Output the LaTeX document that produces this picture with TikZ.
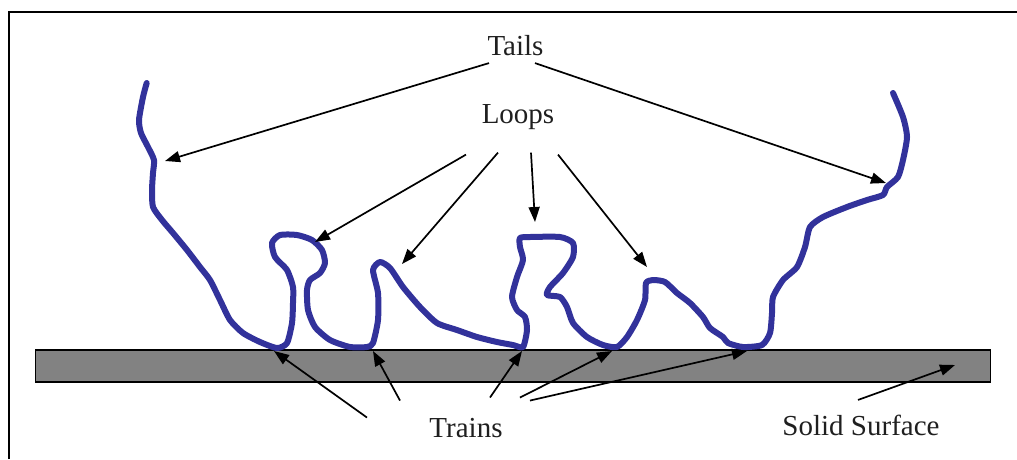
\documentclass[tikz,border=0pt]{standalone}
\usepackage{fontspec}
\setmainfont{Liberation Serif}
\usepackage{tikz}
\usetikzlibrary{arrows.meta}

\definecolor{chainblue}{RGB}{50,50,155}
\definecolor{slab}{RGB}{130,130,130}

\begin{document}
\begin{tikzpicture}[
  x=1pt, y=-1pt,
  chain/.style={draw=chainblue, line width=6pt, line join=round, line cap=round},
  pointer/.style={-{Triangle[length=15pt,width=11pt]}, line width=1.7pt},
  label/.style={font=\fontsize{29}{34}\selectfont, text=black!88, inner sep=0pt, anchor=base}
]
\useasboundingbox (0,0) rectangle (1017,459);

% Frame (open on the right and at the bottom)
\draw[line width=2pt] (8.5,459) -- (8.5,12) -- (1017,12);

% Solid surface
\node[draw=black, line width=1.2pt, fill=slab, minimum width=955pt, minimum height=32pt,
      inner sep=0pt] (surface) at (513,366) {};

% Adsorbed polymer chain
\draw[chain] plot[smooth, tension=0.4] coordinates {
  (146.7,83) (143,97) (139,120) (141,133) (148,147) (154,160) (153,173) (152,190)
  (153,207) (162,220) (173,233) (187,250) (200,267) (210,280) (220,300) (230,320)
  (243,333) (260,342) (277,348) (287,343) (292,323) (293,303) (293,287) (287,270)
  (275,257) (272,243) (280,235) (297,235) (312,240) (322,250) (325,263) (320,273)
  (310,280) (307,290) (308,310) (315,327) (330,340) (350,347) (367,347) (373,343)
  (378,320) (378,293) (373,270) (380,262) (390,268) (403,287) (420,307) (437,323)
  (457,330) (477,337) (497,342) (513,345) (523,347) (527,330) (525,317) (517,310)
  (512,297) (517,277) (523,260) (520,247) (520,238) (530,237) (560,237) (573,243)
  (573,257) (563,273) (550,287) (547,295) (560,297) (567,307) (573,323) (587,337)
  (603,345) (617,347) (627,337) (637,320) (645,300) (646,283) (653,280) (665,282)
  (677,293) (690,303) (703,317) (710,328) (723,337) (728,343) (743,347) (762,345)
  (770,333) (772,313) (773,297) (783,280) (797,267) (805,247) (810,227) (823,217)
  (847,207) (867,200) (883,195) (887,187) (898,177) (903,160) (907,137) (903,117)
  (893,93)};

% Labels
\node[label] (tails) at (515.5,55) {Tails};
\node[label] (loops) at (518,123) {Loops};
\node[label] (trains) at (466,437) {Trains};
\node[label] (solid) at (861,435) {Solid Surface};

% Arrow ends on the chain
\coordinate (tailA) at (165,161);
\coordinate (tailB) at (886,183);
\coordinate (loopA) at (315,242);
\coordinate (loopB) at (402,264);
\coordinate (loopC) at (535,222);
\coordinate (loopD) at (647,267);
\coordinate (trainA) at (274,351);
\coordinate (trainB) at (373,351);
\coordinate (trainC) at (522,351);
\coordinate (trainD) at (612,351);
\coordinate (trainE) at (747,351);
\coordinate (slabpt) at (955,365);

% Arrows
\draw[pointer] (tails) ++(-26.5,18) -- (tailA);
\draw[pointer] (tails) ++(19.5,18) -- (tailB);
\draw[pointer] (loops) ++(-52,38) -- (loopA);
\draw[pointer] (loops) ++(-20,36) -- (loopB);
\draw[pointer] (loops) ++(13,36) -- (loopC);
\draw[pointer] (loops) ++(40,38) -- (loopD);
\draw[pointer] (trains) ++(-99,-10) -- (trainA);
\draw[pointer] (trains) ++(-66,-27) -- (trainB);
\draw[pointer] (trains) ++(24,-30) -- (trainC);
\draw[pointer] (trains) ++(54,-30) -- (trainD);
\draw[pointer] (trains) ++(64,-27) -- (trainE);
\draw[pointer] (solid) ++(-3,-25) -- (slabpt);

\end{tikzpicture}
\end{document}
